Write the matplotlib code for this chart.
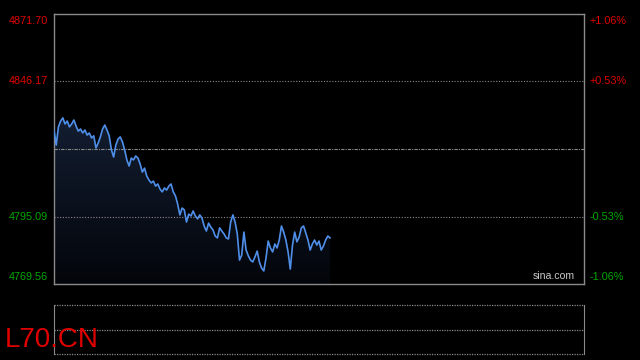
import numpy as np
import matplotlib
matplotlib.use('Agg')
import matplotlib.pyplot as plt
from matplotlib.colors import LinearSegmentedColormap

# intraday ticks (one per minute slot)
prices = [
    4827.8, 4822.1, 4829.0, 4831.2, 4832.4, 4830.1, 4831.2, 4829.0, 4830.1, 4831.6,
    4829.3, 4827.4, 4828.2, 4826.7, 4827.8, 4825.9, 4826.7, 4824.8, 4825.6, 4821.0,
    4822.9, 4825.2, 4828.2, 4829.7, 4827.8, 4825.6, 4820.3, 4817.6, 4822.1, 4824.4,
    4825.2, 4823.3, 4820.3, 4816.5, 4814.2, 4817.2, 4816.5, 4818.0, 4817.2, 4815.0,
    4811.9, 4813.4, 4810.4, 4808.9, 4807.8, 4808.5, 4806.6, 4807.4, 4805.5, 4804.4,
    4805.9, 4805.1, 4806.6, 4807.4, 4804.4, 4802.9, 4799.8, 4795.7, 4798.3, 4797.6,
    4793.0, 4796.0, 4795.3, 4797.2, 4795.3, 4794.2, 4795.7, 4794.5, 4791.5, 4789.6,
    4792.6, 4791.1, 4790.0, 4787.7, 4787.0, 4790.8, 4789.6, 4788.5, 4787.0, 4786.6,
    4793.0, 4795.7, 4793.0, 4788.5, 4778.6, 4780.5, 4789.2, 4782.4, 4780.2, 4778.6,
    4777.9, 4779.8, 4782.0, 4777.9, 4775.6, 4774.5, 4779.4, 4785.8, 4783.2, 4781.7,
    4784.7, 4783.2, 4786.2, 4791.5, 4789.2, 4786.2, 4781.7, 4775.2, 4784.3, 4789.2,
    4785.5, 4787.3, 4790.8, 4791.5, 4788.9, 4786.2, 4782.4, 4784.7, 4786.2, 4784.3,
    4785.8, 4782.4, 4783.9, 4786.2, 4787.7, 4787.0,
]
n_slots = 240
prev_close = 4820.63
y_top, y_bot = 4871.70, 4769.56
left_labels = ['4871.70', '4846.17', '4795.09', '4769.56']
left_vals = [4871.70, 4846.17, 4795.09, 4769.56]
right_labels = ['+1.06%', '+0.53%', '-0.53%', '-1.06%']
symbol = 'L70.CN'

RED = '#e00000'
GREEN = '#00a800'
GRAY = '#8a8a8a'
LINE = '#4f8fea'

plt.rcParams['font.family'] = ['Liberation Sans', 'DejaVu Sans']

fig = plt.figure(figsize=(6.4, 3.6), dpi=100, facecolor='black')
ax = fig.add_axes([54/640, 1-284/360, 530/640, 270/360], facecolor='black')
vax = fig.add_axes([54/640, 1-354/360, 530/640, 49/360], facecolor='black')

x = np.arange(len(prices))
p = np.array(prices)

# gradient fill under the price line
cmap = LinearSegmentedColormap.from_list('fill', ['#03050a', '#131e31'])
grad = np.linspace(0, 1, 256).reshape(-1, 1)
img = ax.imshow(grad, extent=[0, x[-1], y_bot, p.max()], origin='lower',
                aspect='auto', cmap=cmap, zorder=1)
poly = ax.fill_between(x, p, y_bot, color='none', lw=0)
img.set_clip_path(poly.get_paths()[0], transform=ax.transData)

ax.plot(x, p, color=LINE, lw=1.2, zorder=3)

for v in left_vals[1:3]:
    ax.axhline(v, color=GRAY, lw=0.8, ls=(0, (1, 1.5)), zorder=2)
ax.axhline(prev_close, color=GRAY, lw=0.8, ls=(0, (3, 1, 1, 1)), zorder=2)

ax.set_xlim(0, n_slots)
ax.set_ylim(y_bot, y_top)
ax.set_xticks([])
ax.set_yticks([])
for s in ax.spines.values():
    s.set_color(GRAY)
    s.set_linewidth(1)

# axis labels
vas = ['top', 'center', 'center', 'bottom']
offs = [-0.8, 0, 0, 0.8]
for i, (lab, v) in enumerate(zip(left_labels, left_vals)):
    col = RED if v > prev_close else GREEN
    ax.text(-0.012, v + offs[i], lab, transform=ax.get_yaxis_transform(),
            ha='right', va=vas[i], color=col, fontsize=7.8)
    ax.text(1.011, v + offs[i], right_labels[i], transform=ax.get_yaxis_transform(),
            ha='left', va=vas[i], color=col, fontsize=7.8)

ax.text(0.982, 0.012, 'sina.com', transform=ax.transAxes, ha='right', va='bottom',
        color='#c8c8c8', fontsize=7.6)

# volume panel (empty)
vax.set_xlim(0, n_slots)
vax.set_ylim(0, 2)
vax.set_xticks([])
vax.set_yticks([])
for side in ['top', 'bottom']:
    vax.spines[side].set_visible(False)
for side in ['left', 'right']:
    vax.spines[side].set_color(GRAY)
for yv in [0, 1, 2]:
    vax.axhline(yv, color=GRAY, lw=0.9, ls=(0, (1, 1)), clip_on=False)

fig.text(5/640, 1-340/360, symbol, color=RED, fontsize=20, ha='left', va='center')

fig.savefig('out.png', dpi=100, facecolor='black')
